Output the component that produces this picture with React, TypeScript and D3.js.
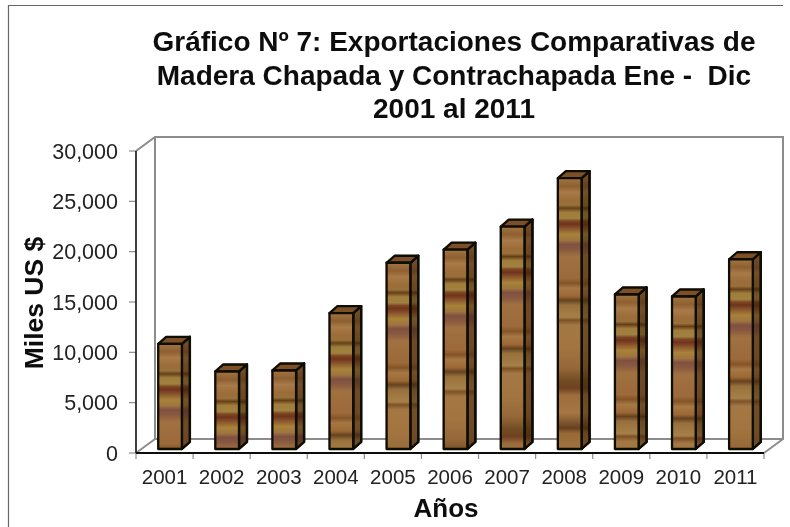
import React from "react";
import * as d3 from "d3";

const years = ["2001","2002","2003","2004","2005","2006","2007","2008","2009","2010","2011"];
const exportsValues = [10450, 7700, 7800, 13500, 18500, 19800, 22100, 26900, 15350, 15150, 18850];
const yTicks = [0, 5000, 10000, 15000, 20000, 25000, 30000];
const titleLines = ["Gráfico Nº 7: Exportaciones Comparativas de", "Madera Chapada y Contrachapada Ene -  Dic", "2001 al 2011"];
// wood grain measured in pixels down from the top of each bar: [distance, colour]
const woodStops: [number, string][] = [
  [0, "#a27442"], [8, "#8e6030"], [14, "#a87a48"], [22, "#9c6c38"], [27, "#98703a"], [30, "#644018"],
  [34, "#a07c3c"], [40, "#a08240"], [43, "#7c4422"], [46, "#70341e"], [51, "#8e5a2e"], [56, "#a88238"],
  [62, "#9e7440"], [66, "#805040"], [71, "#885840"], [78, "#a07040"], [100, "#9c6a3a"], [105, "#845428"],
  [110, "#a67844"], [118, "#9c6834"], [122, "#654320"], [127, "#98703c"], [139, "#a68048"], [142, "#7e5226"],
  [147, "#a47844"], [170, "#a27440"], [190, "#966838"], [202, "#724e24"], [210, "#704022"], [217, "#9c6c3a"],
  [235, "#a67644"], [250, "#664020"], [255, "#986a36"], [272, "#a07240"],
];
const grainLength = 272;

const W = 790, H = 527;
const frontLeft = 136, frontRight = 764, frontBase = 453, frontTop = 151;
const depthX = 19, depthY = 14;

export default function App() {
  const x = d3.scaleBand<string>().domain(years).range([frontLeft, frontRight]);
  const y = d3.scaleLinear().domain([0, 30000]).range([frontBase, frontTop]);
  const barW = x.bandwidth() * 0.415;
  const barOffX = (x.bandwidth() - barW) / 2 + 5.5;
  const barOffY = -4;
  const sideX = 8, sideY = 7;
  const font = "'Liberation Sans', Arial, sans-serif";

  return (
    <svg width={W} height={H} style={{ position: "absolute", left: 0, top: 0, background: "#fff" }} fontFamily={font}>
      <defs>
        {years.map((yr, i) => {
          const yTop = y(exportsValues[i]) + barOffY;
          return (
            <linearGradient key={yr} id={`wood-${yr}`} gradientUnits="userSpaceOnUse" x1={0} x2={0} y1={yTop} y2={yTop + grainLength}>
              {woodStops.map(([d, c], j) => <stop key={j} offset={d / grainLength} stopColor={c} />)}
            </linearGradient>
          );
        })}
        <filter id="soft" x="-5%" y="-5%" width="110%" height="110%">
          <feGaussianBlur stdDeviation="0.5" />
        </filter>
        <filter id="softText" x="-5%" y="-5%" width="110%" height="110%">
          <feGaussianBlur stdDeviation="0.3" />
        </filter>
      </defs>

      <g filter="url(#soft)">
        {/* frame */}
        <path d="M8.5,527 V5.5 H783" fill="none" stroke="#666" strokeWidth={1.2} />

        {/* walls */}
        <path
          d={`M${frontLeft},${frontTop} L${frontLeft + depthX},${frontTop - depthY} H${frontRight + depthX} V${frontBase - depthY} L${frontRight},${frontBase}`}
          fill="none" stroke="#8c8c8c" strokeWidth={2} />
        <path
          d={`M${frontLeft + depthX},${frontTop - depthY} V${frontBase - depthY} H${frontRight + depthX} M${frontLeft},${frontBase} L${frontLeft + depthX},${frontBase - depthY}`}
          fill="none" stroke="#8c8c8c" strokeWidth={2} />

        {/* ticks */}
        {yTicks.map(t => (
          <line key={t} x1={frontLeft - 7} x2={frontLeft} y1={y(t)} y2={y(t)} stroke="#8c8c8c" strokeWidth={1.2} />
        ))}
        {[...years.map(d => x(d)!), frontRight].map((px, i) => (
          <line key={i} x1={px} x2={px} y1={frontBase} y2={frontBase + 6} stroke="#8c8c8c" strokeWidth={1.2} />
        ))}

        {/* axes */}
        <line x1={frontLeft} x2={frontLeft} y1={frontTop} y2={frontBase} stroke="#111" strokeWidth={1.6} />
        <line x1={frontLeft} x2={frontRight} y1={frontBase} y2={frontBase} stroke="#111" strokeWidth={2} />

        {/* bars */}
        {years.map((yr, i) => {
          const x0 = x(yr)! + barOffX;
          const x1 = x0 + barW;
          const yTop = y(exportsValues[i]) + barOffY;
          const yBase = y(0) + barOffY;
          const side = `M${x1},${yTop} L${x1 + sideX},${yTop - sideY} V${yBase - sideY} L${x1},${yBase} Z`;
          return (
            <g key={yr} stroke="#0c0804" strokeWidth={2.3} strokeLinejoin="round">
              <path d={side} fill={`url(#wood-${yr})`} />
              <path d={side} fill="#2a1608" fillOpacity={0.42} stroke="none" />
              <path d={side} fill="none" />
              <path d={`M${x0},${yTop} L${x0 + sideX},${yTop - sideY} H${x1 + sideX} L${x1},${yTop} Z`} fill="#7c5028" />
              <rect x={x0} y={yTop} width={barW} height={yBase - yTop} fill={`url(#wood-${yr})`} />
            </g>
          );
        })}
      </g>

      <g filter="url(#softText)">
        {/* tick labels */}
        {yTicks.map(t => (
          <text key={t} x={118} y={y(t)} dy="0.35em" textAnchor="end" fontSize={21.5} fill="#222">{d3.format(",")(t)}</text>
        ))}
        {years.map(yr => (
          <text key={yr} x={x(yr)! + x.bandwidth() / 2} y={484} textAnchor="middle" fontSize={20.5} fill="#222">{yr}</text>
        ))}

        {/* titles */}
        {titleLines.map((l, i) => (
          <text key={i} x={454} y={51 + i * 33.5} textAnchor="middle" fontSize={28} fontWeight="bold" fill="#111" style={{ whiteSpace: "pre" }}>{l}</text>
        ))}
        <text x={446} y={517} textAnchor="middle" fontSize={26} fontWeight="bold" fill="#111">Años</text>
        <text transform="translate(43,303) rotate(-90)" textAnchor="middle" fontSize={26.5} fontWeight="bold" fill="#111">Miles US $</text>
      </g>
    </svg>
  );
}
